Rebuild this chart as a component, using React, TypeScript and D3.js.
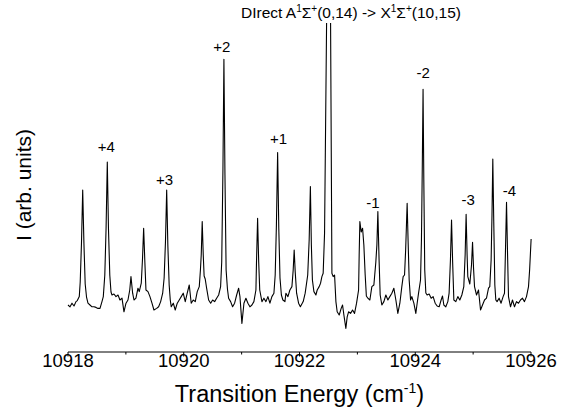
import React from "react";
import * as d3 from "d3";

// Spectrum trace: transition energy (cm^-1) and intensity (arb. units)
const wavenumber: number[] = [
  10918.0, 10918.035, 10918.069, 10918.104, 10918.138, 10918.161, 10918.195, 10918.211, 10918.233, 10918.254,
  10918.275, 10918.297, 10918.32, 10918.345, 10918.38, 10918.415, 10918.449, 10918.484, 10918.518, 10918.553,
  10918.587, 10918.61, 10918.636, 10918.658, 10918.679, 10918.699, 10918.722, 10918.743, 10918.76, 10918.794,
  10918.829, 10918.864, 10918.898, 10918.933, 10918.967, 10919.002, 10919.036, 10919.067, 10919.088, 10919.117,
  10919.14, 10919.174, 10919.209, 10919.231, 10919.266, 10919.288, 10919.307, 10919.328, 10919.347, 10919.382,
  10919.416, 10919.451, 10919.485, 10919.532, 10919.566, 10919.601, 10919.636, 10919.661, 10919.684, 10919.705,
  10919.725, 10919.748, 10919.767, 10919.784, 10919.819, 10919.853, 10919.888, 10919.922, 10919.957, 10919.991,
  10920.026, 10920.06, 10920.095, 10920.129, 10920.164, 10920.199, 10920.233, 10920.268, 10920.288, 10920.302,
  10920.319, 10920.337, 10920.352, 10920.371, 10920.395, 10920.43, 10920.465, 10920.499, 10920.534, 10920.568,
  10920.603, 10920.637, 10920.656, 10920.677, 10920.694, 10920.712, 10920.732, 10920.755, 10920.775, 10920.81,
  10920.844, 10920.879, 10920.914, 10920.948, 10920.971, 10921.005, 10921.04, 10921.074, 10921.109, 10921.143,
  10921.178, 10921.212, 10921.247, 10921.257, 10921.276, 10921.295, 10921.313, 10921.351, 10921.385, 10921.42,
  10921.454, 10921.489, 10921.523, 10921.558, 10921.58, 10921.601, 10921.622, 10921.642, 10921.663, 10921.687,
  10921.713, 10921.748, 10921.765, 10921.8, 10921.834, 10921.869, 10921.891, 10921.908, 10921.926, 10921.95,
  10921.984, 10922.015, 10922.064, 10922.098, 10922.142, 10922.167, 10922.188, 10922.205, 10922.223, 10922.249,
  10922.283, 10922.306, 10922.34, 10922.364, 10922.387, 10922.409, 10922.433, 10922.468, 10922.484, 10922.502,
  10922.521, 10922.537, 10922.56, 10922.582, 10922.606, 10922.629, 10922.651, 10922.686, 10922.72, 10922.744,
  10922.767, 10922.801, 10922.824, 10922.848, 10922.882, 10922.917, 10922.951, 10922.986, 10923.021, 10923.031,
  10923.043, 10923.066, 10923.09, 10923.112, 10923.135, 10923.155, 10923.181, 10923.216, 10923.25, 10923.285,
  10923.319, 10923.337, 10923.354, 10923.375, 10923.394, 10923.423, 10923.458, 10923.492, 10923.527, 10923.561,
  10923.596, 10923.63, 10923.665, 10923.699, 10923.734, 10923.768, 10923.791, 10923.815, 10923.834, 10923.848,
  10923.86, 10923.876, 10923.895, 10923.919, 10923.941, 10923.976, 10924.01, 10924.033, 10924.057, 10924.091,
  10924.107, 10924.121, 10924.135, 10924.148, 10924.164, 10924.183, 10924.205, 10924.24, 10924.275, 10924.309,
  10924.344, 10924.378, 10924.413, 10924.447, 10924.471, 10924.494, 10924.528, 10924.563, 10924.585, 10924.608,
  10924.627, 10924.646, 10924.667, 10924.701, 10924.736, 10924.77, 10924.805, 10924.839, 10924.862, 10924.879,
  10924.896, 10924.908, 10924.943, 10924.972, 10924.99, 10925.007, 10925.024, 10925.059, 10925.093, 10925.128,
  10925.162, 10925.197, 10925.231, 10925.266, 10925.288, 10925.311, 10925.326, 10925.34, 10925.356, 10925.375,
  10925.392, 10925.414, 10925.449, 10925.483, 10925.518, 10925.542, 10925.559, 10925.577, 10925.594, 10925.611,
  10925.646, 10925.68, 10925.715, 10925.749, 10925.784, 10925.818, 10925.853, 10925.887, 10925.922, 10925.957,
  10925.976, 10926.002,
];

const intensity: number[] = [
  0, -0.09, 0.09, -0.05, 0.17, 0.22, 0.42, 1.15, 3.1, 5.75,
  3.1, 1.05, 0.4, 0.09, 0, -0.09, -0.09, -0.12, -0.17, -0.17,
  0.17, 0.42, 1.5, 3.85, 7.15, 3.85, 1.5, 0.65, 0.5, 0.55,
  0.42, 0.5, 0.25, 0.34, -0.34, 0.09, 0.25, 0.75, 1.42, 0.59,
  0.25, 0.34, 0.84, 0.67, 1.09, 2.35, 3.84, 2.15, 0.75, 0.67,
  0.42, 0.09, -0.25, -0.17, -0.09, 0.17, 0.59, 1.35, 3.15, 5.75,
  3.0, 1.0, 0.25, -0.09, 0.09, -0.25, 0.09, 0.25, 0.42, 0.59,
  0.17, 0.59, 1.0, 0.09, 0.25, 0.17, 0.67, 0.92, 1.75, 2.5,
  4.17, 2.5, 1.45, 1.3, 0.84, 0.25, 0.09, 0.25, 0.17, 0.34,
  0.5, 0.92, 2.15, 6.75, 12.29, 6.5, 1.75, 0.8, 0.34, 0.17,
  -0.09, 0.09, 0.5, 0.84, 0.42, -0.92, 0.09, 0.34, 0.09, -0.09,
  0, 0.17, 0.75, 2.15, 4.34, 2.15, 0.75, 0.17, 0.34, 0.17,
  0.42, 0.09, 0.42, 0.59, 1.5, 4.0, 7.62, 3.85, 1.35, 0.5,
  0.25, 0.17, 0.59, 0.42, 0.75, 0.92, 1.75, 2.75, 1.65, 0.59,
  0.09, -0.09, 0.17, 0.59, 1.5, 3.25, 5.92, 3.0, 1.25, 0.67,
  0.5, 0.75, 0.92, 1.09, 1.42, 1.59, 3.6, 14.1, 20.25, 25.25,
  20.25, 14.1, 1.59, 1.42, 1.5, 0.17, -0.34, -0.5, -0.17, 0,
  -0.5, -1.17, -0.59, -0.34, -0.42, -0.25, -0.42, 0.09, 0.75, 2.5,
  4.17, 3.65, 3.84, 3.0, 1.5, 0.45, 0.34, 0.25, 0.92, 1.0,
  2.15, 3.0, 4.67, 2.25, 0.5, 0, 0.17, 0.5, 0.25, 0.42,
  0.59, 0.84, 0.25, -0.42, 0.09, 0.92, 1.42, 1.5, 2.75, 4.0,
  5.09, 3.25, 1.25, 0.25, 0.42, 0.09, -0.42, 0.09, 0.59, 1.25,
  3.25, 6.75, 10.79, 6.25, 1.75, 0.6, 0.5, 0.55, 0.34, 0.42,
  0.09, -0.05, -0.09, 0.25, 0.45, 0, -0.09, 0.17, 0.59, 2.25,
  4.25, 2.15, 0.25, 0.17, 0.42, 0.25, 0.5, 0.92, 2.5, 4.54,
  2.5, 1.42, 1.05, 2.0, 3.14, 1.85, 0.92, 0.5, 0.75, -0.25,
  0, 0.25, 0.34, 0.84, 0.92, 2.25, 4.5, 7.3, 4.25, 1.0,
  0.25, 0.17, 0.34, 0.09, 0.42, 0.59, 2.75, 5.14, 2.65, 0.42,
  -0.09, 0.25, -0.09, 0.17, 0.09, 0.25, 0.34, 0.17, 0.42, 0.92,
  1.75, 3.3,
];

// Rotational line assignments and the wavenumber of the line each marks
const lineLabels: string[] = ["+4", "+3", "+2", "+1", "-1", "-2", "-3", "-4"];
const lineCenters: number[] = [10918.679, 10919.705, 10920.694, 10921.622, 10923.354, 10924.135, 10924.879, 10925.577];
const lineHeights: number[] = [7.15, 5.75, 12.29, 7.62, 4.67, 10.79, 4.54, 5.14];
// label nudges in pixels (dx, gap above the peak)
const labelDx: number[] = [-1, -2, -2, 1, -5, 0, 2, 3];
const labelGap: number[] = [15, 10, 12, 14, 9, 16, 14, 11];

const xTicks: number[] = [10918, 10919, 10920, 10921, 10922, 10923, 10924, 10925, 10926];
const xDomain: [number, number] = [10918, 10926];
const yDomain: [number, number] = [-2.35, 14.1];

const W = 561;
const H = 415;
const left = 68;
const right = 531;
const top = 23;
const bottom = 352;
const FONT = "'Liberation Sans', Arial, Helvetica, sans-serif";

export default function App() {
  const x = d3.scaleLinear().domain(xDomain).range([left, right]);
  const y = d3.scaleLinear().domain(yDomain).range([bottom, top]);

  const points: [number, number][] = wavenumber.map((w, i) => [w, intensity[i]]);
  const line = d3
    .line<[number, number]>()
    .x((d) => x(d[0]))
    .y((d) => y(d[1]));

  return (
    <svg
      width={W}
      height={H}
      viewBox={`0 0 ${W} ${H}`}
      style={{ position: "absolute", left: 0, top: 0, background: "#fff" }}
      fontFamily={FONT}
    >
      <defs>
        <clipPath id="plot-area">
          <rect x={left - 2} y={top} width={right - left + 4} height={bottom - top} />
        </clipPath>
      </defs>

      <path
        d={line(points) ?? ""}
        fill="none"
        stroke="#000"
        strokeWidth={1.1}
        strokeLinejoin="round"
        clipPath="url(#plot-area)"
      />

      {/* bottom axis */}
      <line x1={x(xDomain[0])} x2={x(xDomain[1])} y1={bottom} y2={bottom} stroke="#000" strokeWidth={1} />
      {xTicks.map((t) => {
        const major = (t - 10918) % 2 === 0;
        return (
          <g key={t}>
            <line x1={x(t)} x2={x(t)} y1={bottom} y2={bottom + (major ? 4.5 : 2.5)} stroke="#000" strokeWidth={1} />
            {major && (
              <text x={x(t)} y={367} textAnchor="middle" fontSize={18.5}>
                {t}
              </text>
            )}
          </g>
        );
      })}

      <text x={(left + right) / 2} y={402} textAnchor="middle" fontSize={23.5}>
        Transition Energy (cm
        <tspan fontSize={14} dy={-9}>-1</tspan>
        <tspan dy={9}>)</tspan>
      </text>

      <text
        transform={`translate(31,185) rotate(-90)`}
        textAnchor="middle"
        fontSize={21}
      >
        I (arb. units)
      </text>

      <text x={241} y={18} fontSize={15.5}>
        DIrect A<tspan fontSize={10} dy={-6}>1</tspan>
        <tspan dy={6}>Σ</tspan>
        <tspan fontSize={10} dy={-6}>+</tspan>
        <tspan dy={6}>(0,14) -&gt; X</tspan>
        <tspan fontSize={10} dy={-6}>1</tspan>
        <tspan dy={6}>Σ</tspan>
        <tspan fontSize={10} dy={-6}>+</tspan>
        <tspan dy={6}>(10,15)</tspan>
      </text>

      {lineLabels.map((lab, i) => (
        <text
          key={lab}
          x={x(lineCenters[i]) + labelDx[i]}
          y={y(lineHeights[i]) - labelGap[i] + 5}
          textAnchor="middle"
          fontSize={15}
        >
          {lab}
        </text>
      ))}
    </svg>
  );
}
